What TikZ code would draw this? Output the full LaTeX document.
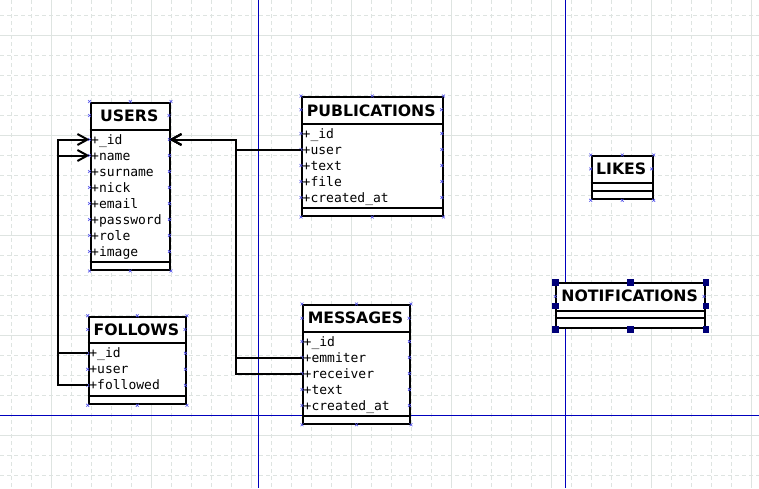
\documentclass[tikz,border=0pt]{standalone}
\usepackage{fontspec}
\setmainfont{DejaVu Sans}
\newfontfamily\attrmono{DejaVu Sans Mono}
\usetikzlibrary{arrows.meta}
\definecolor{gridc}{RGB}{222,228,225}
\definecolor{guide}{RGB}{0,0,190}
\definecolor{cpc}{RGB}{80,80,235}
\definecolor{handlec}{RGB}{0,0,120}
\tikzset{
  x=1pt, y=-1pt,
  gridminor/.style={draw=gridc, line width=0.9pt, dash pattern=on 4pt off 3pt},
  gridmajor/.style={draw=gridc, line width=1pt},
  guideline/.style={draw=guide, line width=1pt},
  tbox/.style={draw=black, fill=white, line width=2pt, inner sep=0pt, anchor=north west},
  sepline/.style={draw=black, line width=2pt},
  ttl/.style={font=\fontsize{15.7}{18}\selectfont\bfseries, inner sep=0pt, anchor=base},
  attr/.style={font=\fontsize{13}{15}\selectfont\attrmono, anchor=west, inner xsep=1.5pt,
    inner ysep=0pt, minimum height=16pt, text height=11pt, text depth=2pt, align=left},
  fk/.style={draw=black, line width=2pt, -{Straight Barb[length=10pt,width=11pt]}},
  cpmark/.pic={\draw[cpc, line width=0.6pt] (-1.4pt,-1.4pt) -- (1.4pt,1.4pt) (-1.4pt,1.4pt) -- (1.4pt,-1.4pt);},
  selhandle/.pic={\fill[handlec] (-3.3pt,-3.3pt) rectangle (3.3pt,3.3pt);}
}
\begin{document}
\begin{tikzpicture}
\useasboundingbox (0,0) rectangle (759,488);
\fill[white] (0,0) rectangle (759,488);
% grid
\foreach \gx in {11.5,31.5,...,759} \draw[gridminor] (\gx,0) -- (\gx,488);
\foreach \gy in {15.5,35.5,...,488} \draw[gridminor] (0,\gy) -- (759,\gy);
\foreach \gx in {51.5,151.5,...,759} \draw[gridmajor] (\gx,0) -- (\gx,488);
\foreach \gy in {35.5,135.5,...,488} \draw[gridmajor] (0,\gy) -- (759,\gy);
% guides
\draw[guideline] (258.5,0) -- (258.5,488);
\draw[guideline] (565.5,0) -- (565.5,488);
\draw[guideline] (0,415.5) -- (759,415.5);

% USERS
\node[tbox, minimum width=79.5pt, minimum height=167.5pt] (usersbox) at (89.5,101.5) {};
\draw[sepline] (89.5,129.5) -- (169,129.5);
\draw[sepline] (89.5,261.5) -- (169,261.5);
\node[ttl] (users) at (129.25,121) {USERS};
\begin{scope}[every node/.append style={attr, text width=76.5pt}]
\node (users-id) at (89.5,139.5) {+\_id};
\node (users-name) at (89.5,155.5) {+name};
\node (users-surname) at (89.5,171.5) {+surname};
\node (users-nick) at (89.5,187.5) {+nick};
\node (users-email) at (89.5,203.5) {+email};
\node (users-password) at (89.5,219.5) {+password};
\node (users-role) at (89.5,235.5) {+role};
\node (users-image) at (89.5,251.5) {+image};
\end{scope}

% PUBLICATIONS
\node[tbox, minimum width=140.5pt, minimum height=119pt] (pubbox) at (301,96) {};
\draw[sepline] (301,123.5) -- (441.5,123.5);
\draw[sepline] (301,207.5) -- (441.5,207.5);
\node[ttl] (pub) at (371.25,116) {PUBLICATIONS};
\begin{scope}[every node/.append style={attr, text width=137.5pt}]
\node (pub-id) at (301,133.5) {+\_id};
\node (pub-user) at (301,149.5) {+user};
\node (pub-text) at (301,165.5) {+text};
\node (pub-file) at (301,181.5) {+file};
\node (pub-created) at (301,197.5) {+created\_at};
\end{scope}

% FOLLOWS
\node[tbox, minimum width=97.3pt, minimum height=87.6pt] (folbox) at (87.7,315.7) {};
\draw[sepline] (87.7,343.3) -- (185,343.3);
\draw[sepline] (87.7,396) -- (185,396);
\node[ttl] (fol) at (136.35,335) {FOLLOWS};
\begin{scope}[every node/.append style={attr, text width=94.3pt}]
\node (fol-id) at (87.7,353.3) {+\_id};
\node (fol-user) at (87.7,369.3) {+user};
\node (fol-followed) at (87.7,385.3) {+followed};
\end{scope}

% MESSAGES
\node[tbox, minimum width=107pt, minimum height=118.7pt] (msgbox) at (302,304) {};
\draw[sepline] (302,332.3) -- (409,332.3);
\draw[sepline] (302,415.7) -- (409,415.7);
\node[ttl] (msg) at (355.5,323.4) {MESSAGES};
\begin{scope}[every node/.append style={attr, text width=104pt}]
\node (msg-id) at (302,341.5) {+\_id};
\node (msg-emmiter) at (302,357.5) {+emmiter};
\node (msg-receiver) at (302,373.5) {+receiver};
\node (msg-text) at (302,389.5) {+text};
\node (msg-created) at (302,405.5) {+created\_at};
\end{scope}

% LIKES
\node[tbox, minimum width=61pt, minimum height=43.3pt] (likesbox) at (590.7,155) {};
\draw[sepline] (590.7,182.7) -- (651.7,182.7);
\draw[sepline] (590.7,190.7) -- (651.7,190.7);
\node[ttl] (likes) at (621.2,174.3) {LIKES};

% NOTIFICATIONS
\node[tbox, minimum width=148.7pt, minimum height=45pt] (notifbox) at (555.3,282.3) {};
\draw[sepline] (555.3,310.7) -- (704,310.7);
\draw[sepline] (555.3,318.3) -- (704,318.3);
\node[ttl] (notif) at (629.65,301.7) {NOTIFICATIONS};

% connection points
\foreach \b in {usersbox,pubbox,folbox,msgbox,likesbox,notifbox}
  \foreach \a in {north west,north,north east,south west,south,south east}
    \path (\b.\a) pic{cpmark};
\foreach \n in {users-id,users-name,users-surname,users-nick,users-email,users-password,users-role,users-image,
  pub-id,pub-user,pub-text,pub-file,pub-created,fol-id,fol-user,fol-followed,
  msg-id,msg-emmiter,msg-receiver,msg-text,msg-created}
  {\path (\n.west) pic{cpmark}; \path (\n.east) pic{cpmark};}
\foreach \px/\py in {89.5/115.5,169/115.5,301/109.75,441.5/109.75,87.7/329.5,185/329.5,
  302/318.2,409/318.2,590.7/168.9,651.7/168.9,555.3/296.5,704/296.5}
  \path (\px,\py) pic{cpmark};

% connectors
\coordinate (busR) at (235.5,250);
\coordinate (busL) at (57.7,250);
\draw[fk] (pub-user.west) -- (pub-user.west -| busR) |- (users-id.east);
\draw[fk] (msg-emmiter.west) -- (msg-emmiter.west -| busR) |- (users-id.east);
\draw[fk] (msg-receiver.west) -- (msg-receiver.west -| busR) |- (users-id.east);
\draw[fk] (fol-id.west) -- (fol-id.west -| busL) |- (users-name.west);
\draw[fk] (fol-followed.west) -- (fol-followed.west -| busL) |- (users-id.west);

% selection handles
\foreach \a in {north west,north,north east,west,east,south west,south,south east}
  \path (notifbox.\a) pic{selhandle};
\end{tikzpicture}
\end{document}
